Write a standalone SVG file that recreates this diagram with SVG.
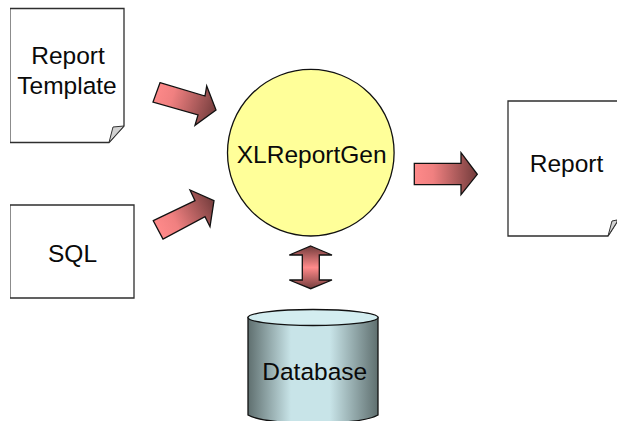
<svg xmlns="http://www.w3.org/2000/svg" width="617" height="421" viewBox="0 0 617 421">
<style>
text{font-family:"Liberation Sans",Arial,sans-serif;font-size:24.500px;fill:#0a0a0a;text-anchor:middle}
.doc{fill:#fff;stroke:none}
.edgeL{fill:none;stroke:#8c8c8c;stroke-width:1}
.edgeD{fill:none;stroke:#2e2e2e;stroke-width:1.300}
.fold{fill:#d2d2d2;stroke:#333;stroke-width:1}
.arr{stroke:#111;stroke-width:1.300;stroke-linejoin:miter}
</style>
<defs>
<linearGradient id="g1" gradientUnits="userSpaceOnUse" x1="153" y1="92" x2="216" y2="113"><stop offset="0" stop-color="#ff8a8a"/><stop offset=".3" stop-color="#f08080"/><stop offset="1" stop-color="#733c3c"/></linearGradient>
<linearGradient id="g2" gradientUnits="userSpaceOnUse" x1="158" y1="230" x2="214" y2="200"><stop offset="0" stop-color="#ff8a8a"/><stop offset=".3" stop-color="#f08080"/><stop offset="1" stop-color="#733c3c"/></linearGradient>
<linearGradient id="g3" gradientUnits="userSpaceOnUse" x1="414" y1="0" x2="477" y2="0"><stop offset="0" stop-color="#ff8a8a"/><stop offset=".3" stop-color="#f08080"/><stop offset="1" stop-color="#733c3c"/></linearGradient>
<linearGradient id="g4" gradientUnits="userSpaceOnUse" x1="0" y1="246" x2="0" y2="289"><stop offset="0" stop-color="#733c3c"/><stop offset=".5" stop-color="#ff8a8a"/><stop offset="1" stop-color="#733c3c"/></linearGradient>
<linearGradient id="cyl" gradientUnits="userSpaceOnUse" x1="248" y1="0" x2="378" y2="0"><stop offset="0" stop-color="#5f6f6f"/><stop offset=".33" stop-color="#c8e4e8"/><stop offset=".63" stop-color="#c8e4e8"/><stop offset="1" stop-color="#5f6f6f"/></linearGradient>
</defs>
<g id="report-template">
<path class="doc" d="M10 8.500H124V126L109 142.500H10Z"/>
<path class="edgeL" d="M10.500 142V8.500"/>
<path class="edgeD" d="M10 8.500H124V126L109 142.500H10"/>
<path class="fold" d="M109 142.500L113 127L124 126Z"/>
<text x="68" y="63.500">Report</text>
<text x="67" y="94">Template</text>
</g>
<g id="sql">
<rect class="doc" x="10" y="205" width="124" height="93"/>
<path class="edgeL" d="M10.500 298V205"/>
<path class="edgeD" d="M10 205H134V298H10"/>
<text x="72.500" y="262">SQL</text>
</g>
<g id="xlreportgen">
<ellipse cx="310.800" cy="152.700" rx="83.300" ry="83.300" fill="#ffff99" stroke="#111" stroke-width="1.300"/>
<text x="311.700" y="162.500">XLReportGen</text>
</g>
<g id="report">
<path class="doc" d="M508 101H617V222L608 236H508Z"/>
<path class="edgeD" d="M617 101H508V236H608L617 222"/>
<path class="fold" d="M608 236L612 221L617 220V222Z"/>
<text x="566.500" y="172">Report</text>
</g>
<g id="database">
<path d="M248 317.500V415Q262 423 313 423T378 415V317.500Z" fill="url(#cyl)" stroke="#111" stroke-width="1.300"/>
<ellipse cx="313" cy="317.500" rx="65" ry="8" fill="#d3edf0" stroke="#111" stroke-width="1.300"/>
<text x="314.700" y="379.500">Database</text>
</g>
<g id="connectors">
<path class="arr" fill="url(#g1)" d="M160 82.700L205 96L206.700 86L216 110L195 125.300L198 115L153 102Z"/>
<path class="arr" fill="url(#g2)" d="M153.300 220.700L195 200.700L190 190L214 200.700L210 226.700L205 216.700L163 239Z"/>
<path class="arr" fill="url(#g3)" d="M414.300 163.300H461V152.700L477.300 174.300L461 194.700V184.700H414.300Z"/>
<path class="arr" fill="url(#g4)" d="M310.700 246L332 255H319.300V280H332L310.700 288.700L289.300 280H302.300V255H289.300Z"/>
</g>
</svg>
